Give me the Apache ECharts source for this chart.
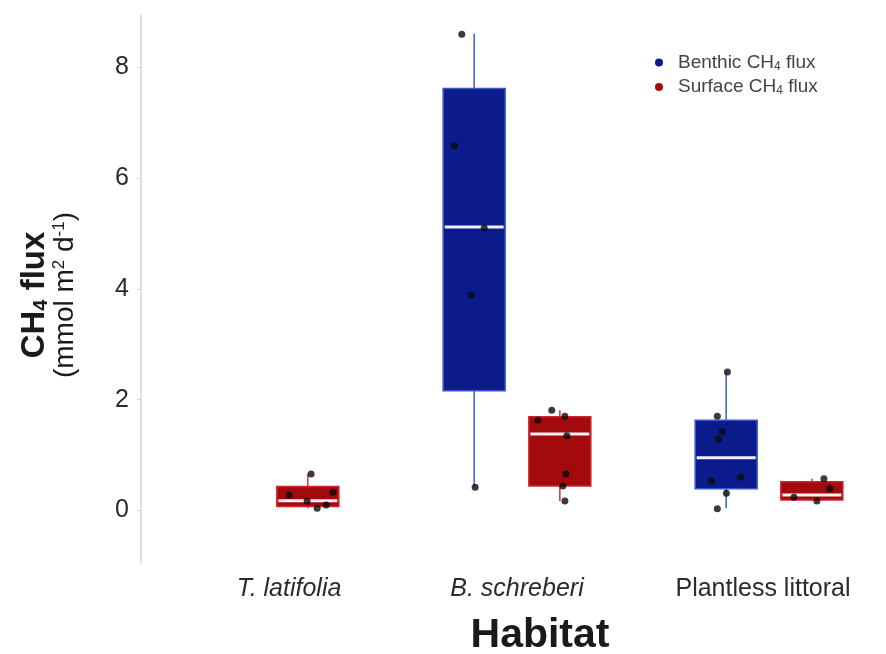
<!DOCTYPE html>
<html><head><meta charset="utf-8">
<script src="https://cdn.jsdelivr.net/npm/echarts@6/dist/echarts.min.js"></script>
<style>html,body{margin:0;padding:0;background:#fff}#c{width:886px;height:654px}</style>
</head><body><div id="c"></div>
<script>
// ---------------- data ----------------
const habitats = ['T. latifolia', 'B. schreberi', 'Plantless littoral'];
const yTicks = [0, 2, 4, 6, 8];
const seriesNames = ['Benthic CH4 flux', 'Surface CH4 flux'];
// box stats: [habitatIndex, lowerWhisker, Q1, median, Q3, upperWhisker]
const benthicBoxes = [
  [1, 0.42, 2.16, 5.12, 7.62, 8.61],
  [2, 0.04, 0.39, 0.95, 1.63, 2.49]
];
const surfaceBoxes = [
  [0, 0.04, 0.07, 0.175, 0.43, 0.66],
  [1, 0.17, 0.44, 1.38, 1.69, 1.81],
  [2, 0.17, 0.19, 0.28, 0.52, 0.57]
];
// observations: [habitatIndex, jitter (category units), value]
const benthicPoints = [
  [1, -0.049, 8.60], [1, -0.078, 6.59], [1, 0.040, 5.10], [1, -0.012, 3.89], [1, 0.004, 0.42],
  [2, 0.005, 2.50], [2, -0.035, 1.70], [2, -0.015, 1.42], [2, -0.031, 1.29],
  [2, -0.058, 0.53], [2, 0.057, 0.60], [2, 0.001, 0.31], [2, -0.035, 0.03]
];
const surfacePoints = [
  [0, 0.013, 0.66], [0, -0.074, 0.28], [0, 0.100, 0.33], [0, -0.003, 0.17], [0, 0.037, 0.04], [0, 0.073, 0.10],
  [1, -0.032, 1.81], [1, -0.087, 1.63], [1, 0.020, 1.70], [1, 0.028, 1.35], [1, 0.024, 0.66], [1, 0.012, 0.44], [1, 0.020, 0.17],
  [2, 0.048, 0.57], [2, 0.071, 0.39], [2, -0.071, 0.24], [2, 0.020, 0.17]
];

// ---------------- layout / style ----------------
const FONT = 'Liberation Sans, Arial, Helvetica, sans-serif';
const DODGE = 0.17;      // category units
const HALF_BOX = 0.123;  // category units
const blueStyle = { fill: '#0c1b8b', stroke: '#3657cf', whisker: '#4668d6', median: '#eef0ff' };
const redStyle  = { fill: '#a20a0d', stroke: '#cf2530', whisker: '#e23a48', median: '#fff0f0' };

function makeBoxRender(side, st) {
  return function (params, api) {
    const x = api.value(0) + side * DODGE;
    const lo = api.value(1), q1 = api.value(2), med = api.value(3), q3 = api.value(4), hi = api.value(5);
    const tl = api.coord([x - HALF_BOX, q3]);
    const br = api.coord([x + HALF_BOX, q1]);
    const wt = api.coord([x, hi]);
    const wb = api.coord([x, lo]);
    const ml = api.coord([x - HALF_BOX, med]);
    const mr = api.coord([x + HALF_BOX, med]);
    return {
      type: 'group',
      children: [
        { type: 'line', shape: { x1: wt[0], y1: wt[1], x2: wb[0], y2: wb[1] }, style: { stroke: st.whisker, lineWidth: 1.6 } },
        { type: 'rect', shape: { x: tl[0], y: tl[1], width: br[0] - tl[0], height: br[1] - tl[1] }, style: { fill: st.fill, stroke: st.stroke, lineWidth: 1.5 } },
        { type: 'line', shape: { x1: ml[0] + 1.5, y1: ml[1], x2: mr[0] - 1.5, y2: mr[1] }, style: { stroke: st.median, lineWidth: 3 } }
      ]
    };
  };
}
function pointData(points, side) {
  return points.map(p => [p[0] + side * DODGE + p[1], p[2]]);
}

const chart = echarts.init(document.getElementById('c'), null, { renderer: 'canvas' });
chart.setOption({
  animation: false,
  backgroundColor: '#ffffff',
  textStyle: { fontFamily: FONT },
  grid: { left: 139, top: 15, width: 756, height: 548, outerBoundsMode: 'none', containLabel: false },
  legend: {
    data: seriesNames,
    orient: 'vertical',
    left: 650, top: 48,
    itemWidth: 28, itemHeight: 8, itemGap: 5,
    icon: 'circle',
    selectedMode: false,
    formatter: n => '{t|' + n.replace('CH4', 'CH}{s|4}{t|') + '}',
    textStyle: {
      color: '#444', fontFamily: FONT,
      rich: {
        t: { fontSize: 19, color: '#444', fontFamily: FONT, lineHeight: 20 },
        s: { fontSize: 12, color: '#444', fontFamily: FONT, lineHeight: 10, verticalAlign: 'bottom' }
      }
    }
  },
  xAxis: [
    {
      type: 'category', data: habitats, position: 'bottom',
      axisLine: { show: false }, axisTick: { show: false }, splitLine: { show: false },
      axisLabel: {
        margin: 14,
        formatter: (v, i) => '{' + ['l0', 'l1', 'l2'][i] + '|' + v + '}',
        rich: {
          l0: { fontSize: 25, fontStyle: 'italic', color: '#2b2b2b', fontFamily: FONT, padding: [0, 0, 0, 48] },
          l1: { fontSize: 25, fontStyle: 'italic', color: '#2b2b2b', fontFamily: FONT },
          l2: { fontSize: 25, color: '#2b2b2b', fontFamily: FONT, padding: [0, 12, 0, 0] }
        }
      },
      name: 'Habitat', nameLocation: 'middle', nameGap: 52,
      nameTextStyle: { fontSize: 41, fontWeight: 'bold', color: '#1a1a1a', fontFamily: FONT, padding: [0, 0, 0, 46] }
    },
    { type: 'value', min: -0.5, max: 2.5, show: false }
  ],
  yAxis: {
    type: 'value', min: -0.95, max: 8.95, offset: -2,
    axisLine: { show: true, onZero: false, lineStyle: { color: '#d6d6d6', width: 1.5 } },
    axisTick: { show: true, length: 4, customValues: yTicks, lineStyle: { color: '#d6d6d6', width: 1 } },
    axisLabel: { customValues: yTicks, fontSize: 25, color: '#2b2b2b', margin: 12, fontFamily: FONT },
    splitLine: { show: false },
    name: '{b|CH}{bs|4}{b| flux}\n{n|(mmol m}{sp|2}{n| d}{sp|-1}{n|)}',
    nameLocation: 'middle', nameRotate: 90, nameGap: 62,
    nameTextStyle: {
      align: 'center',
      padding: [0, 12, 0, 0],
      rich: {
        b: { fontSize: 33, fontWeight: 'bold', color: '#1a1a1a', fontFamily: FONT, lineHeight: 33 },
        bs: { fontSize: 20, fontWeight: 'bold', color: '#1a1a1a', fontFamily: FONT, lineHeight: 16, verticalAlign: 'bottom' },
        n: { fontSize: 28, color: '#1a1a1a', fontFamily: FONT, lineHeight: 28 },
        sp: { fontSize: 17, color: '#1a1a1a', fontFamily: FONT, lineHeight: 14, verticalAlign: 'top' }
      }
    }
  },
  series: [
    {
      name: seriesNames[0], type: 'custom', xAxisIndex: 1, data: benthicBoxes,
      encode: { x: 0, y: [1, 2, 3, 4, 5] },
      itemStyle: { color: blueStyle.fill },
      renderItem: makeBoxRender(-1, blueStyle), z: 2
    },
    {
      name: seriesNames[1], type: 'custom', xAxisIndex: 1, data: surfaceBoxes,
      encode: { x: 0, y: [1, 2, 3, 4, 5] },
      itemStyle: { color: redStyle.fill },
      renderItem: makeBoxRender(1, redStyle), z: 2
    },
    {
      name: 'Benthic observations', type: 'scatter', xAxisIndex: 1,
      data: pointData(benthicPoints, -1), symbolSize: 7,
      itemStyle: { color: '#0a0a0a' }, z: 5
    },
    {
      name: 'Surface observations', type: 'scatter', xAxisIndex: 1,
      data: pointData(surfacePoints, 1), symbolSize: 7,
      itemStyle: { color: '#0a0a0a' }, z: 5
    }
  ]
});
</script>
</body></html>
